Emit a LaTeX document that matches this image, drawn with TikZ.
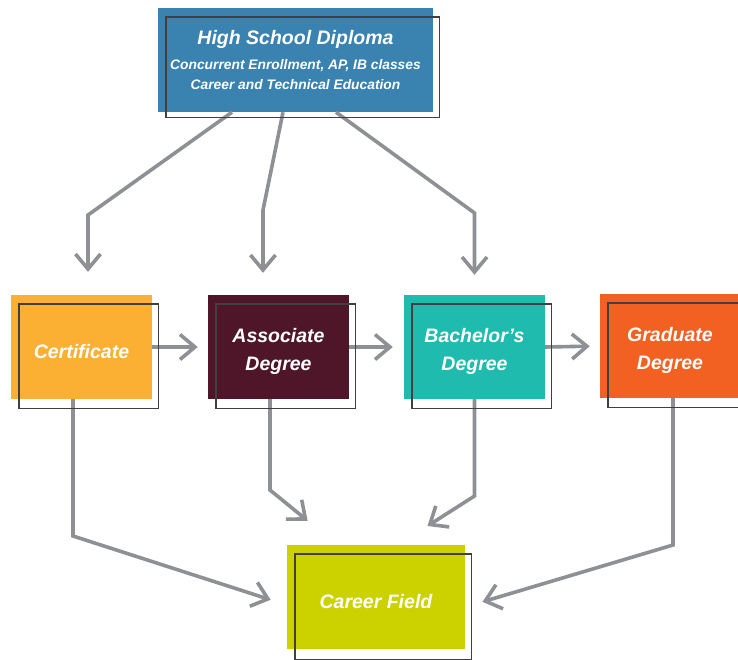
\documentclass[tikz,border=0pt]{standalone}
\usepackage{fontspec}
\setmainfont{Liberation Sans}
\usetikzlibrary{arrows.meta}
\definecolor{hsblue}{HTML}{3A82B0}
\definecolor{certorange}{HTML}{FBB034}
\definecolor{assocmaroon}{HTML}{4E1628}
\definecolor{bachteal}{HTML}{1FBBAE}
\definecolor{gradorange}{HTML}{F26122}
\definecolor{careerlime}{HTML}{CCD100}
\definecolor{flowgray}{HTML}{8F9094}
\tikzset{
  level/.style={rectangle, inner sep=0pt, minimum width=141pt, minimum height=104pt,
    text=white, align=center, font=\fontsize{19.5}{28}\selectfont\bfseries\itshape},
  flow/.style={draw=flowgray, line width=3.6pt, line join=miter,
    -{Straight Barb[length=15pt,width=25pt]}},
  frame/.style={draw=black!75, line width=1.4pt}
}
\newcommand{\lvup}{\rule{0pt}{24pt}}
\newcommand{\levelframe}[2][-9pt]{%
  \draw[frame] ([shift={(8pt,-9pt)}]#2.north west) rectangle ([shift={(6pt,#1)}]#2.south east);}
\begin{document}
\begin{tikzpicture}[x=1pt, y=-1pt]
    \useasboundingbox (0,0) rectangle (738,659);

    \node[level, fill=hsblue, minimum width=275pt] (hs) at (295.5,60)
        {{\fontsize{19.5}{26}\selectfont High School Diploma}\\[-3pt]
         {\fontsize{13.8}{19}\selectfont Concurrent Enrollment, AP, IB classes}\\[-8pt]
         {\fontsize{13.8}{19}\selectfont Career and Technical Education}};
    \node[level, fill=certorange] (cert) at (81.5,347) {\lvup Certificate};
    \node[level, fill=assocmaroon] (assoc) at (278.5,347) {\lvup Associate\\Degree};
    \node[level, fill=bachteal] (bach) at (474.5,347) {\lvup Bachelor’s\\Degree};
    \node[level, fill=gradorange, minimum width=140pt] (grad) at (670,346) {\lvup Graduate\\Degree};
    \node[level, fill=careerlime, minimum width=178pt] (career) at (376,597) {\lvup Career Field};

    % from the diploma down to the first three
    \draw[flow, shorten >=23pt] ([xshift=-63.5pt]hs.south) -- (88,215) -- ([xshift=6.5pt]cert.north);
    \draw[flow, shorten >=22pt] ([xshift=-12.5pt]hs.south) -- (263,210) -- ([xshift=-15.5pt]assoc.north);
    \draw[flow, shorten >=20pt] ([xshift=40.5pt]hs.south) -- (474.5,213) -- (bach.north);

    % along the row
    \draw[flow, shorten >=10pt] (cert.east) -- (assoc.west);
    \draw[flow, shorten >=11pt] (assoc.east) -- (bach.west);
    \draw[flow, shorten >=10pt] (bach.east) -- (grad.west);

    % down to the career field
    \draw[flow, shorten >=17pt] ([xshift=-8.5pt]cert.south) -- (73,536) -- ([yshift=-8pt]career.west);
    \draw[flow, shorten >=38pt] ([xshift=-8.5pt]assoc.south) -- (270,490) -- ([xshift=-39pt]career.north);
    \draw[flow, shorten >=35pt] (bach.south) -- (474.5,496) -- ([xshift=22pt]career.north);
    \draw[flow, shorten >=18pt] ([xshift=3pt]grad.south) -- (673,545) -- ([yshift=-10pt]career.east);

    \levelframe[-5pt]{hs}
    \levelframe{cert}
    \levelframe{assoc}
    \levelframe{bach}
    \levelframe{grad}
    \levelframe[-10pt]{career}
\end{tikzpicture}
\end{document}
